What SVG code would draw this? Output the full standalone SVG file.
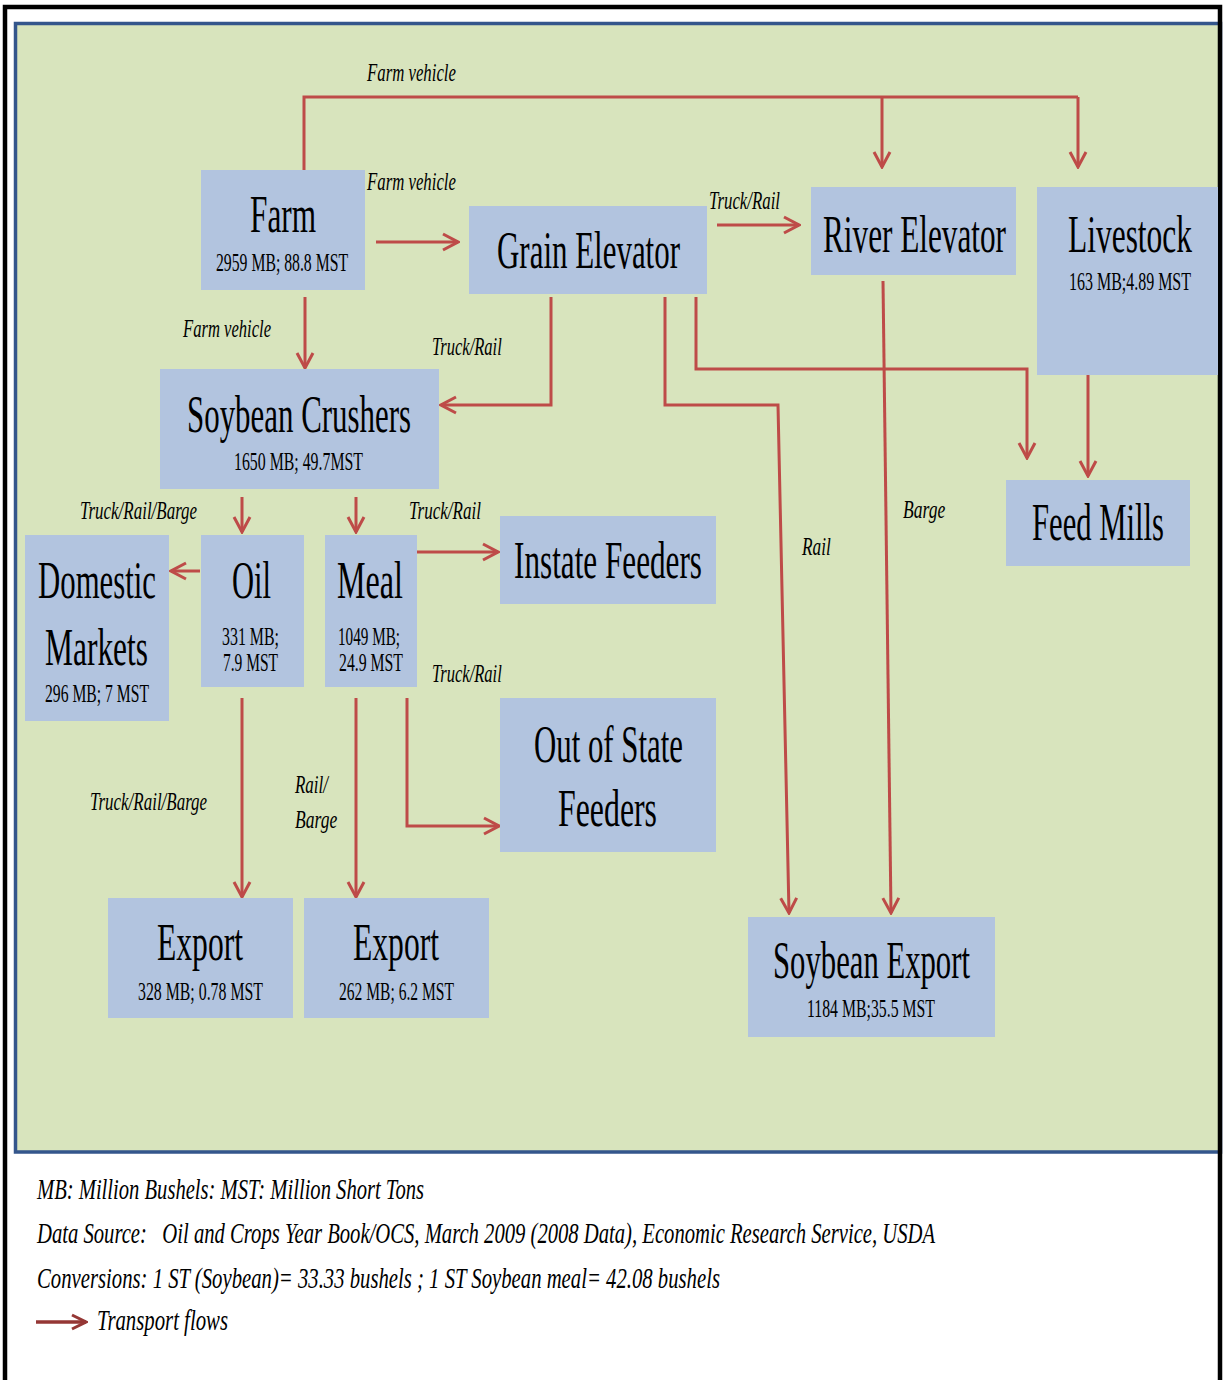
<svg xmlns="http://www.w3.org/2000/svg" width="1225" height="1380" viewBox="0 0 1225 1380">
<defs>
<style>
.box{fill:#B2C4DF}
.t{font-family:"Liberation Serif","Times New Roman",serif;font-size:52px;fill:#000}
.s{font-family:"Liberation Serif","Times New Roman",serif;font-size:26px;fill:#000}
.l{font-family:"Liberation Serif","Times New Roman",serif;font-size:26px;font-style:italic;fill:#000}
.g{font-family:"Liberation Serif","Times New Roman",serif;font-size:29px;font-style:italic;fill:#000}
.c{fill:none;stroke:#BE4B48;stroke-width:3;marker-end:url(#ah)}
.cn{fill:none;stroke:#BE4B48;stroke-width:3}
</style>
<marker id="ah" viewBox="0 0 20 20" refX="18" refY="10" markerWidth="20" markerHeight="20" markerUnits="userSpaceOnUse" orient="auto">
<path d="M3,2 L18,10 L3,18" fill="none" stroke="#BE4B48" stroke-width="3"/>
</marker>
<marker id="ahd" viewBox="0 0 20 20" refX="18" refY="10" markerWidth="20" markerHeight="20" markerUnits="userSpaceOnUse" orient="auto">
<path d="M4,3 L18,10 L4,17" fill="none" stroke="#953735" stroke-width="3"/>
</marker>
</defs>
<rect x="0" y="0" width="1225" height="1380" fill="#fff"/>
<rect x="15.5" y="23.5" width="1205" height="1128.5" fill="#D8E4BD" stroke="#34568C" stroke-width="3.5"/>
<rect x="5" y="7" width="1215" height="1390" fill="none" stroke="#000" stroke-width="4.5"/>

<g id="connectors">
<path class="cn" d="M304,170 V97 H1078"/>
<path class="c" d="M1078,97 V167"/>
<path class="c" d="M882,97 V167"/>
<path class="c" d="M376,242 H458"/>
<path class="c" d="M305,297 V368"/>
<path class="c" d="M717,225 H799"/>
<path class="c" d="M551,297 V405 H441"/>
<path class="c" d="M665,297 V405 H778 L789,913"/>
<path class="c" d="M696,297 V369 H1027 V458"/>
<path class="c" d="M883,281 L891,913"/>
<path class="c" d="M1088,372 V476"/>
<path class="c" d="M242,497 V532"/>
<path class="c" d="M356,497 V532"/>
<path class="c" d="M200,571 H171"/>
<path class="c" d="M417,552 H498"/>
<path class="c" d="M407,698 V826 H499"/>
<path class="c" d="M242,698 V897"/>
<path class="c" d="M356,698 V897"/>
<text class="l" transform="matrix(0.64,0,0,1,367,81)" textLength="139" lengthAdjust="spacingAndGlyphs">Farm vehicle</text>
<text class="l" transform="matrix(0.64,0,0,1,367,190)" textLength="139" lengthAdjust="spacingAndGlyphs">Farm vehicle</text>
<text class="l" transform="matrix(0.64,0,0,1,183,337)" textLength="137.5" lengthAdjust="spacingAndGlyphs">Farm vehicle</text>
<text class="l" transform="matrix(0.64,0,0,1,709,209)" textLength="111" lengthAdjust="spacingAndGlyphs">Truck/Rail</text>
<text class="l" transform="matrix(0.64,0,0,1,432,355)" textLength="109" lengthAdjust="spacingAndGlyphs">Truck/Rail</text>
<text class="l" transform="matrix(0.64,0,0,1,802,555)" textLength="45" lengthAdjust="spacingAndGlyphs">Rail</text>
<text class="l" transform="matrix(0.64,0,0,1,903,518)" textLength="66" lengthAdjust="spacingAndGlyphs">Barge</text>
<text class="l" transform="matrix(0.64,0,0,1,80,519)" textLength="183" lengthAdjust="spacingAndGlyphs">Truck/Rail/Barge</text>
<text class="l" transform="matrix(0.64,0,0,1,409,519)" textLength="112.5" lengthAdjust="spacingAndGlyphs">Truck/Rail</text>
<text class="l" transform="matrix(0.64,0,0,1,432,682)" textLength="109" lengthAdjust="spacingAndGlyphs">Truck/Rail</text>
<text class="l" transform="matrix(0.64,0,0,1,90,810)" textLength="183" lengthAdjust="spacingAndGlyphs">Truck/Rail/Barge</text>
<text class="l" transform="matrix(0.64,0,0,1,295,793)" textLength="51.5" lengthAdjust="spacingAndGlyphs">Rail/</text>
<text class="l" transform="matrix(0.64,0,0,1,295,828)" textLength="66" lengthAdjust="spacingAndGlyphs">Barge</text>
</g>

<g id="farm">
<rect class="box" x="201" y="170" width="164" height="120"/>
<text class="t" transform="matrix(0.6,0,0,1,250,232)" textLength="110" lengthAdjust="spacingAndGlyphs">Farm</text>
<text class="s" transform="matrix(0.6,0,0,1,216,271)" textLength="220" lengthAdjust="spacingAndGlyphs">2959 MB; 88.8 MST</text>
</g>
<g id="grain-elevator">
<rect class="box" x="469" y="206" width="238" height="88"/>
<text class="t" transform="matrix(0.6,0,0,1,497,268)" textLength="305" lengthAdjust="spacingAndGlyphs">Grain Elevator</text>
</g>
<g id="river-elevator">
<rect class="box" x="811" y="187" width="205" height="88"/>
<text class="t" transform="matrix(0.6,0,0,1,823,252)" textLength="305" lengthAdjust="spacingAndGlyphs">River Elevator</text>
</g>
<g id="livestock">
<rect class="box" x="1037" y="187" width="181" height="188"/>
<text class="t" transform="matrix(0.6,0,0,1,1068,252)" textLength="206.7" lengthAdjust="spacingAndGlyphs">Livestock</text>
<text class="s" transform="matrix(0.6,0,0,1,1069,290)" textLength="203.3" lengthAdjust="spacingAndGlyphs">163 MB;4.89 MST</text>
</g>
<g id="feed-mills">
<rect class="box" x="1006" y="480" width="184" height="86"/>
<text class="t" transform="matrix(0.6,0,0,1,1032,540)" textLength="220" lengthAdjust="spacingAndGlyphs">Feed Mills</text>
</g>
<g id="soybean-crushers">
<rect class="box" x="160" y="369" width="279" height="120"/>
<text class="t" transform="matrix(0.6,0,0,1,187,432)" textLength="373.3" lengthAdjust="spacingAndGlyphs">Soybean Crushers</text>
<text class="s" transform="matrix(0.6,0,0,1,234,470)" textLength="215" lengthAdjust="spacingAndGlyphs">1650 MB; 49.7MST</text>
</g>
<g id="domestic-markets">
<rect class="box" x="25" y="535" width="144" height="186"/>
<text class="t" transform="matrix(0.6,0,0,1,38,598)" textLength="196.7" lengthAdjust="spacingAndGlyphs">Domestic</text>
<text class="t" transform="matrix(0.6,0,0,1,45,665)" textLength="171.7" lengthAdjust="spacingAndGlyphs">Markets</text>
<text class="s" transform="matrix(0.6,0,0,1,45,702)" textLength="173.3" lengthAdjust="spacingAndGlyphs">296 MB; 7 MST</text>
</g>
<g id="oil">
<rect class="box" x="201" y="535" width="103" height="152"/>
<text class="t" transform="matrix(0.6,0,0,1,232,598)" textLength="65" lengthAdjust="spacingAndGlyphs">Oil</text>
<text class="s" transform="matrix(0.6,0,0,1,222,645)" textLength="95" lengthAdjust="spacingAndGlyphs">331 MB;</text>
<text class="s" transform="matrix(0.6,0,0,1,223,671)" textLength="91.7" lengthAdjust="spacingAndGlyphs">7.9 MST</text>
</g>
<g id="meal">
<rect class="box" x="325" y="535" width="92" height="152"/>
<text class="t" transform="matrix(0.6,0,0,1,337,598)" textLength="110" lengthAdjust="spacingAndGlyphs">Meal</text>
<text class="s" transform="matrix(0.6,0,0,1,338,645)" textLength="103.3" lengthAdjust="spacingAndGlyphs">1049 MB;</text>
<text class="s" transform="matrix(0.6,0,0,1,339,671)" textLength="106.7" lengthAdjust="spacingAndGlyphs">24.9 MST</text>
</g>
<g id="instate-feeders">
<rect class="box" x="500" y="516" width="216" height="88"/>
<text class="t" transform="matrix(0.6,0,0,1,514,578)" textLength="313.3" lengthAdjust="spacingAndGlyphs">Instate Feeders</text>
</g>
<g id="out-of-state-feeders">
<rect class="box" x="500" y="698" width="216" height="154"/>
<text class="t" transform="matrix(0.6,0,0,1,534,762)" textLength="248.3" lengthAdjust="spacingAndGlyphs">Out of State</text>
<text class="t" transform="matrix(0.6,0,0,1,558,826)" textLength="165" lengthAdjust="spacingAndGlyphs">Feeders</text>
</g>
<g id="oil-export">
<rect class="box" x="108" y="898" width="185" height="120"/>
<text class="t" transform="matrix(0.6,0,0,1,157,960)" textLength="143.3" lengthAdjust="spacingAndGlyphs">Export</text>
<text class="s" transform="matrix(0.6,0,0,1,138,1000)" textLength="208.3" lengthAdjust="spacingAndGlyphs">328 MB; 0.78 MST</text>
</g>
<g id="meal-export">
<rect class="box" x="304" y="898" width="185" height="120"/>
<text class="t" transform="matrix(0.6,0,0,1,353,960)" textLength="143.3" lengthAdjust="spacingAndGlyphs">Export</text>
<text class="s" transform="matrix(0.6,0,0,1,339,1000)" textLength="191.7" lengthAdjust="spacingAndGlyphs">262 MB; 6.2 MST</text>
</g>
<g id="soybean-export">
<rect class="box" x="748" y="917" width="247" height="120"/>
<text class="t" transform="matrix(0.6,0,0,1,773,978)" textLength="328.3" lengthAdjust="spacingAndGlyphs">Soybean Export</text>
<text class="s" transform="matrix(0.6,0,0,1,807,1017)" textLength="213.3" lengthAdjust="spacingAndGlyphs">1184 MB;35.5 MST</text>
</g>

<g id="legend">
<text class="g" transform="matrix(0.7,0,0,1,37,1199)" textLength="552.9" lengthAdjust="spacingAndGlyphs">MB: Million Bushels: MST: Million Short Tons</text>
<text class="g" transform="matrix(0.7,0,0,1,37,1243)" textLength="1282.9" lengthAdjust="spacingAndGlyphs" xml:space="preserve">Data Source:   Oil and Crops Year Book/OCS, March 2009 (2008 Data), Economic Research Service, USDA</text>
<text class="g" transform="matrix(0.7,0,0,1,37,1288)" textLength="975.7" lengthAdjust="spacingAndGlyphs">Conversions: 1 ST (Soybean)= 33.33 bushels ; 1 ST Soybean meal= 42.08 bushels</text>
<path d="M36,1322 H86" fill="none" stroke="#953735" stroke-width="3.5" marker-end="url(#ahd)"/>
<text class="g" transform="matrix(0.7,0,0,1,97,1330)" textLength="187.1" lengthAdjust="spacingAndGlyphs">Transport flows</text>
</g>
</svg>
